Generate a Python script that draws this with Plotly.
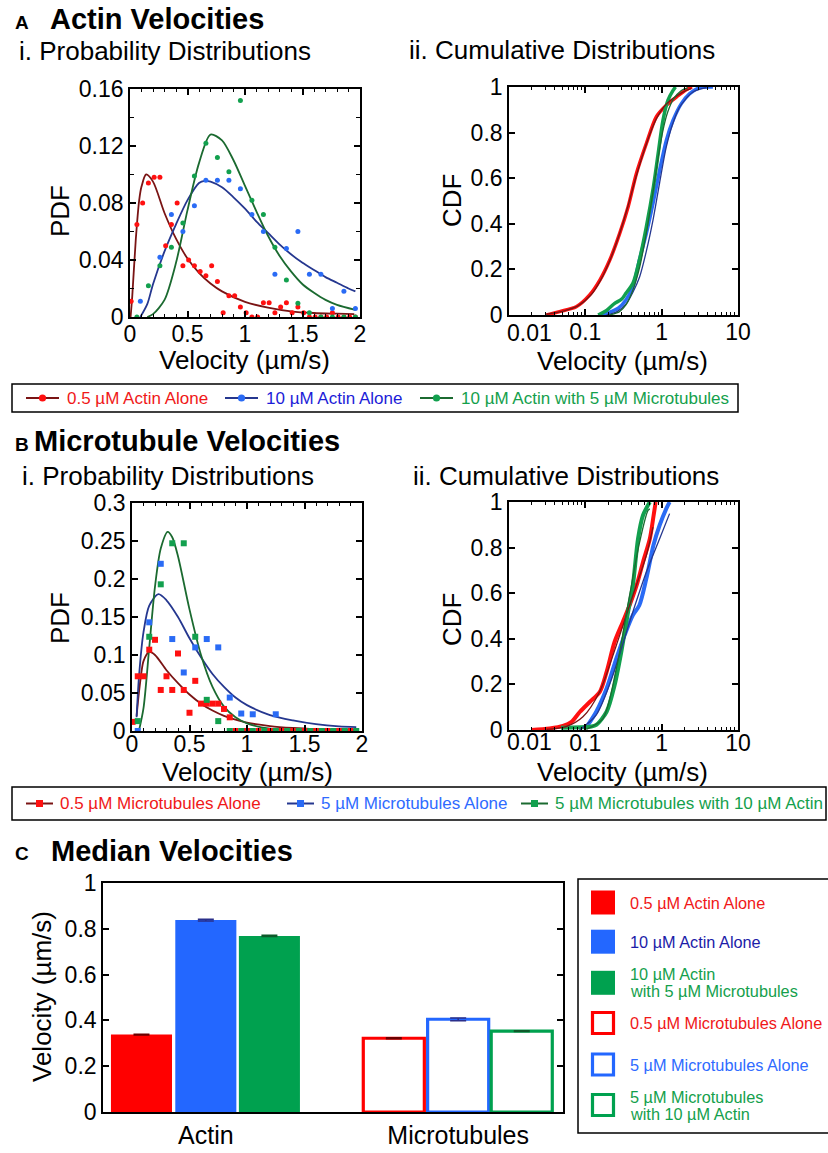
import plotly.graph_objects as go

W, H = 828, 1153
FONT = "Liberation Sans, Arial, Helvetica, sans-serif"

# ---------------- Panel A: actin PDF (binned data + fits) ----------------
a_red_x = [0.01, 0.06, 0.11, 0.16, 0.21, 0.26, 0.31, 0.36, 0.41, 0.46, 0.51, 0.56, 0.61, 0.66, 0.71, 0.76, 0.81, 0.86, 0.91, 0.96,
           1.01, 1.06, 1.11, 1.16, 1.21, 1.26, 1.31, 1.36, 1.41, 1.46, 1.51, 1.56, 1.61, 1.66, 1.71, 1.76, 1.81, 1.86, 1.91, 1.96]
a_red_y = [0.011, 0.065, 0.080, 0.094, 0.098, 0.098, 0.050, 0.065, 0.080, 0.036, 0.040, 0.036, 0.032, 0.029, 0.036, 0.025, 0.003, 0.015, 0.015, 0.007,
           0.003, 0.0, 0.0, 0.010, 0.010, 0.003, 0.007, 0.010, 0.003, 0.007, 0.003, 0.0, 0.0, 0.0, 0.0, 0.003, 0.0, 0.0, 0.0, 0.0]
a_blue_x = [0.09, 0.26, 0.36, 0.46, 0.56, 0.66, 0.76, 0.86, 0.96, 1.06, 1.16, 1.26, 1.36, 1.46, 1.56, 1.66, 1.76, 1.86, 1.96]
a_blue_y = [0.011, 0.042, 0.072, 0.060, 0.078, 0.096, 0.096, 0.096, 0.090, 0.072, 0.060, 0.030, 0.048, 0.060, 0.030, 0.030, 0.006, 0.018, 0.006]
a_green_x = [0.06, 0.16, 0.26, 0.36, 0.46, 0.56, 0.66, 0.76, 0.86, 0.96, 1.06, 1.16, 1.26, 1.36, 1.46, 1.56, 1.66, 1.76, 1.86, 1.96]
a_green_y = [0.0, 0.022, 0.036, 0.049, 0.066, 0.099, 0.122, 0.112, 0.102, 0.152, 0.082, 0.072, 0.049, 0.026, 0.0096, 0.003, 0.0, 0.0, 0.0, 0.0]

a_red_fit_x = [0.005, 0.02, 0.05, 0.08, 0.1, 0.14, 0.2, 0.3, 0.4, 0.5, 0.6, 0.7, 0.8, 1.0, 1.2, 1.4, 1.6, 1.8, 1.95]
a_red_fit_y = [0.0, 0.015, 0.054, 0.082, 0.0915, 0.100, 0.095, 0.073, 0.055, 0.041, 0.031, 0.0235, 0.018, 0.0106, 0.0066, 0.004, 0.0028, 0.0023, 0.002]
a_blue_fit_x = [0.09, 0.15, 0.2, 0.3, 0.4, 0.5, 0.6, 0.65, 0.7, 0.8, 0.9, 1.0, 1.1, 1.2, 1.3, 1.4, 1.5, 1.6, 1.7, 1.8, 1.9, 1.96]
a_blue_fit_y = [0.0, 0.009, 0.023, 0.046, 0.065, 0.082, 0.094, 0.0955, 0.095, 0.091, 0.084, 0.076, 0.067, 0.059, 0.051, 0.044, 0.038, 0.033, 0.028, 0.024, 0.020, 0.018]
a_green_fit_x = [0.15, 0.2, 0.3, 0.4, 0.5, 0.6, 0.7, 0.8, 0.9, 1.0, 1.1, 1.2, 1.3, 1.4, 1.5, 1.6, 1.7, 1.8, 1.96]
a_green_fit_y = [0.0, 0.002, 0.012, 0.038, 0.075, 0.108, 0.128, 0.124, 0.110, 0.092, 0.074, 0.057, 0.043, 0.032, 0.023, 0.017, 0.012, 0.0085, 0.005]

# ---------------- Panel A: actin CDF ----------------
a_red_cdf_x = [0.031, 0.046, 0.076, 0.114, 0.155, 0.209, 0.282, 0.363, 0.466, 0.63, 0.85, 1.15, 1.56, 2.1, 2.5]
a_red_cdf_y = [0.0, 0.015, 0.036, 0.088, 0.153, 0.241, 0.358, 0.474, 0.62, 0.752, 0.869, 0.92, 0.956, 0.988, 1.0]
a_blue_cdf_x = [0.16, 0.2, 0.27, 0.34, 0.42, 0.51, 0.63, 0.77, 0.94, 1.15, 1.41, 1.81, 2.33, 3.15, 4.7]
a_blue_cdf_y = [0.0, 0.01, 0.03, 0.066, 0.124, 0.24, 0.358, 0.489, 0.635, 0.766, 0.854, 0.927, 0.971, 0.997, 1.0]
a_green_cdf_x = [0.147, 0.19, 0.24, 0.3, 0.34, 0.42, 0.51, 0.63, 0.78, 0.9, 1.04, 1.21, 1.41, 1.52]
a_green_cdf_y = [0.0, 0.02, 0.05, 0.07, 0.095, 0.139, 0.24, 0.387, 0.562, 0.708, 0.854, 0.942, 0.985, 1.0]

a_red_cfit_x = [0.03, 0.05, 0.08, 0.12, 0.16, 0.21, 0.28, 0.36, 0.47, 0.63, 0.85, 1.15, 1.56, 2.1, 2.45]
a_red_cfit_y = [0.003, 0.016, 0.04, 0.09, 0.155, 0.24, 0.355, 0.475, 0.615, 0.75, 0.86, 0.925, 0.96, 0.985, 0.993]
a_blue_cfit_x = [0.19, 0.26, 0.344, 0.42, 0.515, 0.63, 0.77, 0.94, 1.15, 1.4, 1.72, 2.57, 3.85]
a_blue_cfit_y = [0.0, 0.015, 0.05, 0.1, 0.168, 0.28, 0.416, 0.58, 0.737, 0.84, 0.912, 0.978, 0.997]
a_green_cfit_x = [0.21, 0.28, 0.34, 0.42, 0.515, 0.63, 0.77, 0.9, 1.04, 1.2, 1.41, 1.81, 2.2]
a_green_cfit_y = [0.0, 0.015, 0.044, 0.11, 0.21, 0.36, 0.54, 0.69, 0.81, 0.89, 0.945, 0.985, 0.996]

# ---------------- Panel B: microtubule PDF ----------------
b_red_x = [0.005, 0.05, 0.10, 0.15, 0.20, 0.25, 0.30, 0.35, 0.40, 0.45, 0.50, 0.55, 0.60, 0.65, 0.70, 0.75, 0.80, 0.85,
           0.9, 1.0, 1.1, 1.2, 1.3, 1.4, 1.5, 1.6, 1.7, 1.8, 1.9]
b_red_y = [0.012, 0.072, 0.072, 0.107, 0.120, 0.054, 0.072, 0.054, 0.102, 0.054, 0.024, 0.066, 0.036, 0.036, 0.036, 0.036, 0.029, 0.018,
           0, 0, 0, 0, 0, 0, 0, 0, 0, 0, 0]
b_blue_x = [0.05, 0.15, 0.25, 0.35, 0.45, 0.55, 0.65, 0.75, 0.85, 0.95, 1.05, 1.25]
b_blue_y = [0.0, 0.143, 0.220, 0.121, 0.077, 0.110, 0.121, 0.110, 0.044, 0.023, 0.022, 0.022]
b_green_x = [0.05, 0.15, 0.25, 0.35, 0.45, 0.55, 0.65, 0.75, 0.85, 0.95, 1.05, 1.15, 1.25, 1.35, 1.45, 1.55, 1.65, 1.75, 1.85, 1.95]
b_green_y = [0.013, 0.124, 0.193, 0.247, 0.247, 0.124, 0.041, 0.013, 0, 0, 0, 0, 0, 0, 0, 0, 0, 0, 0, 0]

b_red_fit_x = [0.04, 0.06, 0.08, 0.1, 0.15, 0.2, 0.3, 0.4, 0.5, 0.6, 0.7, 0.8, 0.9, 1.0, 1.2, 1.4, 1.6, 1.8, 1.95]
b_red_fit_y = [0.02, 0.05, 0.075, 0.092, 0.104, 0.100, 0.080, 0.063, 0.048, 0.036, 0.027, 0.020, 0.015, 0.011, 0.0065, 0.004, 0.0025, 0.0017, 0.0013]
b_blue_fit_x = [0.04, 0.06, 0.1, 0.15, 0.23, 0.3, 0.4, 0.5, 0.6, 0.7, 0.8, 0.9, 1.0, 1.2, 1.4, 1.6, 1.8, 1.95]
b_blue_fit_y = [0.018, 0.07, 0.13, 0.165, 0.180, 0.172, 0.150, 0.122, 0.097, 0.075, 0.058, 0.044, 0.034, 0.021, 0.014, 0.009, 0.006, 0.005]
b_green_fit_x = [0.06, 0.1, 0.15, 0.2, 0.25, 0.31, 0.35, 0.4, 0.5, 0.6, 0.7, 0.8, 0.9, 1.0, 1.2, 1.4, 1.95]
b_green_fit_y = [0.0, 0.03, 0.11, 0.19, 0.24, 0.262, 0.255, 0.23, 0.16, 0.10, 0.058, 0.032, 0.018, 0.010, 0.003, 0.001, 0.0]

# ---------------- Panel B: microtubule CDF ----------------
b_red_cdf_x = [0.0196, 0.034, 0.051, 0.066, 0.085, 0.115, 0.155, 0.19, 0.242, 0.31, 0.38, 0.47, 0.57, 0.70, 0.785, 0.835]
b_red_cdf_y = [0.0, 0.007, 0.018, 0.036, 0.08, 0.124, 0.168, 0.255, 0.387, 0.474, 0.547, 0.635, 0.737, 0.839, 0.942, 1.0]
b_blue_cdf_x = [0.108, 0.139, 0.19, 0.255, 0.327, 0.42, 0.51, 0.63, 0.78, 0.94, 1.15, 1.27]
b_blue_cdf_y = [0.022, 0.08, 0.182, 0.314, 0.416, 0.504, 0.547, 0.664, 0.81, 0.898, 0.971, 1.0]
b_green_cdf_x = [0.048, 0.12, 0.139, 0.19, 0.242, 0.296, 0.363, 0.42, 0.49, 0.57, 0.70]
b_green_cdf_y = [0.01, 0.015, 0.022, 0.08, 0.197, 0.343, 0.518, 0.635, 0.839, 0.942, 1.0]

b_red_cfit_x = [0.031, 0.056, 0.093, 0.154, 0.255, 0.42, 0.63, 0.77]
b_red_cfit_y = [0.003, 0.015, 0.058, 0.168, 0.372, 0.591, 0.766, 0.89]
b_blue_cfit_x = [0.084, 0.139, 0.23, 0.38, 0.63, 0.94, 1.27]
b_blue_cfit_y = [0.0, 0.066, 0.241, 0.474, 0.693, 0.839, 0.949]
b_green_cfit_x = [0.103, 0.17, 0.255, 0.38, 0.515, 0.662, 0.70]
b_green_cfit_y = [0.003, 0.05, 0.27, 0.59, 0.825, 0.963, 0.97]

# ---------------- Panel C: median velocities ----------------
c_groups = ["Actin", "Microtubules"]
c_actin_labels = ["0.5 µM Actin Alone", "10 µM Actin Alone", "10 µM Actin\nwith 5 µM Microtubules"]
c_actin_values = [0.338, 0.838, 0.769]
c_actin_errors = [0.002, 0.004, 0.003]
c_mt_labels = ["0.5 µM Microtubules Alone", "5 µM Microtubules Alone", "5 µM Microtubules\nwith 10 µM Actin"]
c_mt_values = [0.322, 0.405, 0.353]
c_mt_errors = [0.002, 0.006, 0.002]

legend_a_labels = ["0.5 µM Actin Alone", "10 µM Actin Alone", "10 µM Actin with 5 µM Microtubules"]
legend_b_labels = ["0.5 µM Microtubules Alone", "5 µM Microtubules Alone", "5 µM Microtubules with 10 µM Actin"]

# log-axis ticks: the first label ("0.01") is drawn shifted right, as in the original figure
log_tickvals = [0.01, 0.1, 1, 10]
log_ticktext = ["", "0.1", "1", "10"]
log_first_label = "0.01"
log_minor_vals = [k * 10.0 ** e for e in (-2, -1, 0) for k in range(2, 10)]

# ---------------- styles ----------------
RED = "#FF1010"
DRED = "#7A1414"
BLUE = "#2A6BF5"
NAVY = "#25378F"
GREEN = "#12A04E"
DGREEN = "#1B6A30"
BAR_RED = "#FF0000"
BAR_BLUE = "#2367FF"
BAR_GREEN = "#00A14F"


def px(x):
    return x / W


def py(y):
    return 1 - y / H


def axis(**kw):
    d = dict(showline=True, linecolor="black", linewidth=1.6, mirror="allticks", ticks="inside",
             ticklen=6, tickwidth=1.5, tickcolor="black", showgrid=False, zeroline=False, automargin=False,
             tickfont=dict(size=23, color="black", family=FONT), fixedrange=True)
    d.update(kw)
    return d


fig = go.Figure()


def dots(x, y, color, xa, ya, symbol="circle", size=5):
    fig.add_trace(go.Scatter(x=x, y=y, mode="markers", xaxis=xa, yaxis=ya, showlegend=False,
                             marker=dict(color=color, size=size, symbol=symbol, line=dict(width=0)),
                             cliponaxis=True))


def curve(x, y, color, xa, ya, width=1.8, shape="spline"):
    fig.add_trace(go.Scatter(x=x, y=y, mode="lines", xaxis=xa, yaxis=ya, showlegend=False,
                             line=dict(color=color, width=width, shape=shape, smoothing=0.8)))


# A PDF
curve(a_red_fit_x, a_red_fit_y, DRED, "x", "y")
curve(a_blue_fit_x, a_blue_fit_y, NAVY, "x", "y")
curve(a_green_fit_x, a_green_fit_y, DGREEN, "x", "y")
dots(a_red_x, a_red_y, RED, "x", "y")
dots(a_blue_x, a_blue_y, BLUE, "x", "y")
dots(a_green_x, a_green_y, GREEN, "x", "y")

# A CDF
curve(a_red_cdf_x, a_red_cdf_y, RED, "x2", "y2", width=3.5)
curve(a_blue_cdf_x, a_blue_cdf_y, BLUE, "x2", "y2", width=3.5)
curve(a_green_cdf_x, a_green_cdf_y, GREEN, "x2", "y2", width=3.5)
curve(a_red_cfit_x, a_red_cfit_y, DRED, "x2", "y2", width=1.3)
curve(a_blue_cfit_x, a_blue_cfit_y, NAVY, "x2", "y2", width=1.3)
curve(a_green_cfit_x, a_green_cfit_y, DGREEN, "x2", "y2", width=1.3)

# B PDF
curve(b_red_fit_x, b_red_fit_y, DRED, "x3", "y3")
curve(b_blue_fit_x, b_blue_fit_y, NAVY, "x3", "y3")
curve(b_green_fit_x, b_green_fit_y, DGREEN, "x3", "y3")
dots(b_red_x, b_red_y, RED, "x3", "y3", symbol="square", size=6)
dots(b_blue_x, b_blue_y, BLUE, "x3", "y3", symbol="square", size=6)
dots(b_green_x, b_green_y, GREEN, "x3", "y3", symbol="square", size=6)

# B CDF
curve(b_red_cdf_x, b_red_cdf_y, RED, "x4", "y4", width=4)
curve(b_blue_cdf_x, b_blue_cdf_y, BLUE, "x4", "y4", width=4)
curve(b_green_cdf_x, b_green_cdf_y, GREEN, "x4", "y4", width=4)
curve(b_red_cfit_x, b_red_cfit_y, DRED, "x4", "y4", width=1.3)
curve(b_blue_cfit_x, b_blue_cfit_y, NAVY, "x4", "y4", width=1.3)
curve(b_green_cfit_x, b_green_cfit_y, DGREEN, "x4", "y4", width=1.3)

# C bars
BAR_W = 0.242
OFFSETS = [-0.376, -0.121, 0.131]
fills = [BAR_RED, BAR_BLUE, BAR_GREEN]
errc = ["#6B0000", "#2A2F8A", "#0D5A2A"]
for i in range(3):
    fig.add_trace(go.Bar(x=[c_groups[0]], y=[c_actin_values[i]], width=BAR_W, offset=OFFSETS[i],
                         xaxis="x5", yaxis="y5", showlegend=False, name=c_actin_labels[i],
                         marker=dict(color=fills[i], line=dict(width=0)),
                         error_y=dict(type="data", array=[c_actin_errors[i]], color=errc[i], thickness=1.5, width=8)))
for i in range(3):
    fig.add_trace(go.Bar(x=[c_groups[1]], y=[c_mt_values[i]], width=BAR_W, offset=OFFSETS[i],
                         xaxis="x5", yaxis="y5", showlegend=False, name=c_mt_labels[i],
                         marker=dict(color="white", line=dict(width=3.2, color=fills[i])),
                         error_y=dict(type="data", array=[c_mt_errors[i]], color=errc[i], thickness=1.5, width=8)))

minor_x = dict(ticks="inside", dtick=0.1, ticklen=3, tickwidth=1, tickcolor="black", showgrid=False)
minor_log = dict(ticks="inside", tickvals=log_minor_vals, ticklen=3, tickwidth=1, tickcolor="black", showgrid=False)

fig.update_layout(
    width=W, height=H, margin=dict(l=0, r=0, t=0, b=0, pad=0), autosize=False,
    paper_bgcolor="white", plot_bgcolor="white", showlegend=False,
    barmode="overlay", font=dict(family=FONT, color="black"),
    xaxis=axis(domain=[px(130), px(360)], anchor="y", range=[0, 2], dtick=0.5, tick0=0, minor=minor_x,
               ticklabelstandoff=-4),
    yaxis=axis(domain=[py(317), py(89)], anchor="x", range=[0, 0.16], dtick=0.04, tick0=0,
               minor=dict(ticks="inside", dtick=0.02, ticklen=4, tickwidth=1, tickcolor="black", showgrid=False)),
    xaxis2=axis(domain=[px(509), px(738)], anchor="y2", type="log", range=[-2, 1], tickmode="array",
                tickvals=log_tickvals, ticktext=log_ticktext, minor=minor_log, ticklabelstandoff=-4),
    yaxis2=axis(domain=[py(315), py(87)], anchor="x2", range=[0, 1], dtick=0.2, tick0=0),
    xaxis3=axis(domain=[px(132), px(362)], anchor="y3", range=[0, 2], dtick=0.5, tick0=0, minor=minor_x,
                ticklabelstandoff=-8),
    yaxis3=axis(domain=[py(731), py(503)], anchor="x3", range=[0, 0.3], dtick=0.05, tick0=0),
    xaxis4=axis(domain=[px(509), px(738)], anchor="y4", type="log", range=[-2, 1], tickmode="array",
                tickvals=log_tickvals, ticktext=log_ticktext, minor=minor_log, ticklabelstandoff=-8),
    yaxis4=axis(domain=[py(730), py(502)], anchor="x4", range=[0, 1], dtick=0.2, tick0=0),
    xaxis5=axis(domain=[px(103), px(563)], anchor="y5", type="category", categoryorder="array",
                categoryarray=c_groups, range=[-0.4075, 1.4155], ticks="", mirror=True,
                tickfont=dict(size=25, color="black", family=FONT)),
    yaxis5=axis(domain=[py(1112), py(883)], anchor="x5", range=[0, 1], dtick=0.2, tick0=0),
)

ann = []
shapes = []


def text(t, x, y, size, color="black", bold=False, xanchor="left", angle=0):
    if bold:
        t = "<b>" + t + "</b>"
    ann.append(dict(text=t, x=px(x), y=py(y), xref="paper", yref="paper", xanchor=xanchor, yanchor="middle",
                    showarrow=False, textangle=angle, font=dict(size=size, color=color, family=FONT)))


# panel titles
text("A", 13, 22, 19, bold=True)
text("Actin Velocities", 48, 19, 29, bold=True)
text("i. Probability Distributions", 17, 51, 26)
text("ii. Cumulative Distributions", 407, 50, 26)
text("B", 13, 444, 19, bold=True)
text("Microtubule Velocities", 32, 441, 29, bold=True)
text("i. Probability Distributions", 20, 476, 26)
text("ii. Cumulative Distributions", 411, 476, 26)
text("C", 13, 853, 19, bold=True)
text("Median Velocities", 49, 851, 29, bold=True)

# shifted first labels of the log axes
text(log_first_label, 529, 333, 23, xanchor="center")
text(log_first_label, 529, 742, 23, xanchor="center")

# axis titles
VEL = "Velocity (µm/s)"
text("PDF", 60, 211, 26, xanchor="center", angle=-90)
text(VEL, 245, 360, 26, xanchor="center")
text("CDF", 452, 201, 26, xanchor="center", angle=-90)
text(VEL, 622, 361, 26, xanchor="center")
text("PDF", 60, 618, 26, xanchor="center", angle=-90)
text(VEL, 247, 772, 26, xanchor="center")
text("CDF", 452, 620, 26, xanchor="center", angle=-90)
text(VEL, 622, 772, 26, xanchor="center")
text(VEL, 42, 997, 26, xanchor="center", angle=-90)


def rect(x0, y0, x1, y1, line_color="black", width=1.5, fill="rgba(0,0,0,0)"):
    shapes.append(dict(type="rect", xref="paper", yref="paper", x0=px(x0), x1=px(x1), y0=py(y1), y1=py(y0),
                       line=dict(color=line_color, width=width), fillcolor=fill, layer="above"))


def hline(x0, x1, y, color, width=2):
    shapes.append(dict(type="line", xref="paper", yref="paper", x0=px(x0), x1=px(x1), y0=py(y), y1=py(y),
                       line=dict(color=color, width=width), layer="above"))


def dot(cx, cy, r, color):
    shapes.append(dict(type="circle", xref="paper", yref="paper", x0=px(cx - r), x1=px(cx + r),
                       y0=py(cy + r), y1=py(cy - r), line=dict(width=0), fillcolor=color, layer="above"))


# legend A
rect(12, 384, 738, 412)
leg_a_x = [26, 225, 420]
leg_a_text_col = ["#F01818", "#1C1CD8", "#14A04C"]
for i, lab in enumerate(legend_a_labels):
    x0 = leg_a_x[i]
    hline(x0, x0 + 33, 398, [DRED, NAVY, DGREEN][i], 2)
    dot(x0 + 16.5, 398, 3.6, [RED, BLUE, GREEN][i])
    text(lab, x0 + 39, 398, 17, color=leg_a_text_col[i])

# legend B
rect(12, 787, 826, 820)
leg_b_x = [26, 287, 521]
leg_b_text_col = ["#F01818", "#2F6BFF", "#14A04C"]
for i, lab in enumerate(legend_b_labels):
    x0 = leg_b_x[i]
    hline(x0, x0 + 27, 803.5, [DRED, NAVY, DGREEN][i], 2)
    rect(x0 + 10, 800, x0 + 17, 807, line_color=[RED, BLUE, GREEN][i], width=0, fill=[RED, BLUE, GREEN][i])
    text(lab, x0 + 32, 803.5, 17, color=leg_b_text_col[i])

# legend C
rect(578, 879, 840, 1133)
leg_c_y = [902.5, 941.7, 982.8, 1023, 1064.5, 1105]
leg_c_text_col = ["#F01818", "#1C1CA8", "#14A04C", "#F01818", "#2F6BFF", "#14A04C"]
c_all_labels = c_actin_labels + c_mt_labels
for i, lab in enumerate(c_all_labels):
    cy = leg_c_y[i]
    col = fills[i % 3]
    if i < 3:
        rect(591, cy - 12, 615, cy + 12, line_color=col, width=0, fill=col)
    else:
        rect(592.5, cy - 10.5, 613.5, cy + 10.5, line_color=col, width=3.2, fill="white")
    lines = lab.split("\n")
    if len(lines) == 1:
        text(lines[0], 628, cy, 16.3, color=leg_c_text_col[i])
    else:
        text(lines[0], 628, cy - 8.5, 16.3, color=leg_c_text_col[i])
        text(lines[1], 628, cy + 8.5, 16.3, color=leg_c_text_col[i])

fig.update_layout(annotations=ann, shapes=shapes)
fig.write_html("out.html")
